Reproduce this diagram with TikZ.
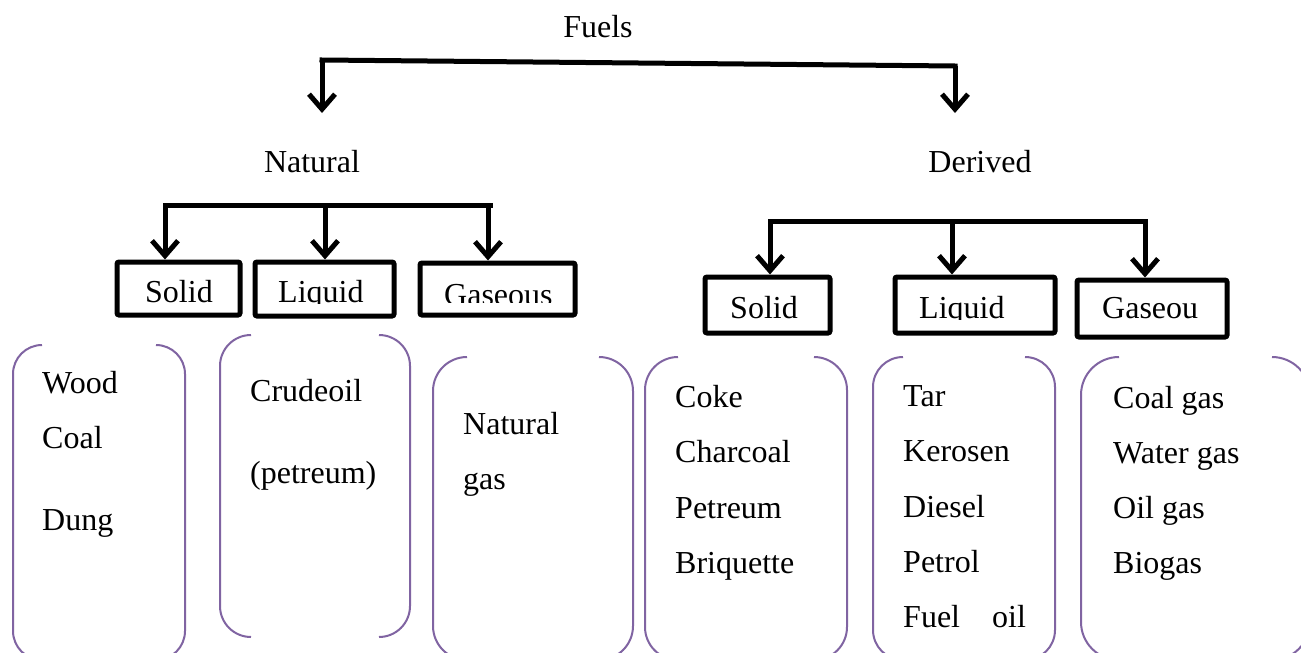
\documentclass[tikz,border=0pt]{standalone}
\usepackage{fontspec}
\setmainfont{Liberation Serif}
\usetikzlibrary{arrows.meta}
\definecolor{brkcol}{HTML}{8064A2}
\newcommand\brkpair[5]{%
  \draw[brk,rounded corners=#5pt] (#1+#5,#3) -- (#1,#3) -- (#1,#4) -- (#1+#5,#4);
  \draw[brk,rounded corners=#5pt] (#2-#5,#3) -- (#2,#3) -- (#2,#4) -- (#2-#5,#4);}
\begin{document}
\begin{tikzpicture}[x=1pt,y=-1pt,
  txt/.style={anchor=base west,inner sep=0pt,font=\fontsize{32}{38}\selectfont},
  ctxt/.style={anchor=base,inner sep=0pt,font=\fontsize{32}{38}\selectfont},
  bar/.style={line width=5pt,line cap=rect},
  arr/.style={line width=5pt,-{Straight Barb[length=15pt,width=26pt]}},
  catbox/.style={draw,line width=5pt,rounded corners=2pt,inner sep=0pt},
  brk/.style={draw=brkcol,line width=2pt}
]
\clip (0,0) rectangle (1301,653);
\fill[white] (0,0) rectangle (1301,653);

% top level
\node[ctxt] (fuels) at (598,37) {Fuels};
\node[ctxt] (natural) at (312,172) {Natural};
\node[ctxt] (derived) at (980,172) {Derived};
\coordinate (tl) at (322,60);
\coordinate (tr) at (955,66);
\coordinate (ntip) at (322,113);
\coordinate (dtip) at (955,113);
\draw[arr] (tl) -- (ntip);
\draw[arr] (tr) -- (dtip);
\draw[bar] (tl) -- (tr);

% natural category boxes
\node[catbox,minimum width=123pt,minimum height=53pt] (nsolid) at (178.5,288.5) {};
\node[catbox,minimum width=139pt,minimum height=54pt] (nliquid) at (324.5,289) {};
\node[catbox,minimum width=155pt,minimum height=52pt] (ngas) at (497.5,289) {};
\begin{scope}\clip (117,262) rectangle (240,303.5);
  \node[txt] (nsolidt) at (145,302.5) {Solid};\end{scope}
\begin{scope}\clip (255,262) rectangle (394,303.5);
  \node[txt] (nliquidt) at (278,302.5) {Liquid};\end{scope}
\begin{scope}\clip (420,262) rectangle (575,302.5);
  \node[txt] (ngast) at (444,305.5) {Gaseous};\end{scope}

\coordinate (nb1) at (165,205);
\coordinate (nb2) at (325,205);
\coordinate (nb3) at (488,205);
\coordinate (nbe) at (490,205);
\draw[arr] (nb1) -- (nb1 |- nsolid.north);
\draw[arr] (nb2) -- (nb2 |- nliquid.north);
\draw[arr] (nb3) -- (nb3 |- ngas.north);
\draw[bar] (nb1) -- (nbe);

% derived category boxes
\node[catbox,minimum width=125pt,minimum height=56pt] (dsolid) at (767.5,305) {};
\node[catbox,minimum width=160pt,minimum height=56pt] (dliquid) at (975,305) {};
\node[catbox,minimum width=150pt,minimum height=57pt] (dgas) at (1152,308.5) {};
\begin{scope}\clip (705,277) rectangle (830,319);
  \node[txt] (dsolidt) at (730,318.5) {Solid};\end{scope}
\begin{scope}\clip (895,277) rectangle (1055,319);
  \node[txt] (dliquidt) at (919,318.5) {Liquid};\end{scope}
\node[txt] (dgast) at (1102,318.5) {Gaseou};

\coordinate (db1) at (770,221);
\coordinate (db2) at (952,221);
\coordinate (db3) at (1145,221);
\draw[arr] (db1) -- (db1 |- dsolid.north);
\draw[arr] (db2) -- (db2 |- dliquid.north);
\draw[arr] (db3) -- (db3 |- dgas.north);
\draw[bar] (db1) -- (db3);

% brackets
\brkpair{13}{185}{345}{660}{29}
\brkpair{220}{410}{335}{637}{31}
\brkpair{433}{633}{357}{660}{34}
\brkpair{645}{847}{357}{660}{33}
\brkpair{873}{1055}{357}{660}{30}
\brkpair{1081}{1310}{357}{660}{38}

% list texts
\node[txt] (l1a) at (42,393) {Wood};
\node[txt] (l1b) at (42,448) {Coal};
\node[txt] (l1c) at (42,530) {Dung};
\node[txt] (l2a) at (250,401) {Crudeoil};
\node[txt] (l2b) at (250,483) {(petreum)};
\node[txt] (l3a) at (463,434) {Natural};
\node[txt] (l3b) at (463,489) {gas};
\node[txt] (l4a) at (675,407) {Coke};
\node[txt] (l4b) at (675,462) {Charcoal};
\node[txt] (l4c) at (675,518) {Petreum};
\node[txt] (l4d) at (675,573) {Briquette};
\node[txt] (l5a) at (903,406) {Tar};
\node[txt] (l5b) at (903,461) {Kerosen};
\node[txt] (l5c) at (903,517) {Diesel};
\node[txt] (l5d) at (903,572) {Petrol};
\node[txt] (l5e) at (903,627) {Fuel};
\node[txt] (l5f) at (992,627) {oil};
\node[txt] (l6a) at (1113,408) {Coal gas};
\node[txt] (l6b) at (1113,463) {Water gas};
\node[txt] (l6c) at (1113,518) {Oil gas};
\node[txt] (l6d) at (1113,573) {Biogas};
\end{tikzpicture}
\end{document}
